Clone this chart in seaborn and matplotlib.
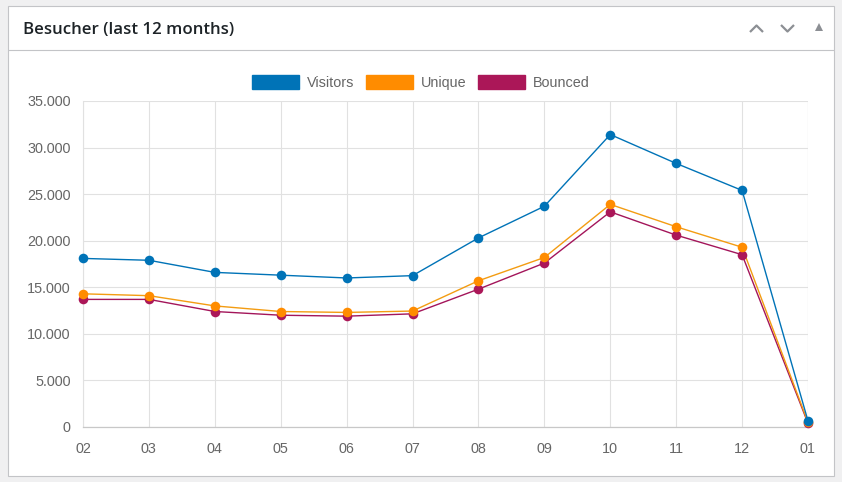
import matplotlib
matplotlib.use("Agg")
import matplotlib.pyplot as plt
import matplotlib.patches as mpatches
from matplotlib.lines import Line2D
from matplotlib.ticker import FuncFormatter, MultipleLocator
import seaborn as sns
import pandas as pd

months = ["02", "03", "04", "05", "06", "07", "08", "09", "10", "11", "12", "01"]
visitors = [18100, 17900, 16600, 16300, 16000, 16250, 20300, 23700, 31400, 28300, 25400, 650]
unique = [14300, 14100, 13000, 12400, 12300, 12450, 15700, 18200, 23900, 21500, 19300, 500]
bounced = [13700, 13700, 12400, 12000, 11900, 12150, 14800, 17600, 23100, 20600, 18500, 400]
series_names = ["Visitors", "Unique", "Bounced"]
line_colors = {"Visitors": "#0073b7", "Unique": "#f39c12", "Bounced": "#a3155a"}
marker_colors = {"Visitors": "#0073b7", "Unique": "#ff8c00", "Bounced": "#ab1758"}
title = "Besucher (last 12 months)"

rows = []
for name, vals in zip(series_names, [visitors, unique, bounced]):
    for i, (m, v) in enumerate(zip(months, vals)):
        rows.append({"pos": i, "month": m, "series": name, "value": v})
df = pd.DataFrame(rows)

sns.set_theme(style="white")
plt.rcParams["font.family"] = ["Liberation Sans", "DejaVu Sans"]

W, H = 842, 482
fig = plt.figure(figsize=(W / 100, H / 100), dpi=100)
fig.patch.set_facecolor("#f0f0f1")

def fx(px):
    return px / W

def fy(py):
    return 1 - py / H

# panel
panel = mpatches.Rectangle((fx(8), fy(476)), fx(834) - fx(8), fy(6) - fy(476),
                           transform=fig.transFigure, facecolor="white",
                           edgecolor="#c3c4c7", linewidth=0.8, zorder=0)
fig.add_artist(panel)
fig.add_artist(Line2D([fx(8), fx(834)], [fy(50), fy(50)], transform=fig.transFigure,
                      color="#c3c4c7", linewidth=0.8))
fig.text(fx(23), fy(29.5), title, fontsize=12.2, fontweight="semibold", color="#1d2327",
         family=["Open Sans", "DejaVu Sans"], va="center", ha="left")

# header icons
icon_c = "#8c8f94"
fig.add_artist(Line2D([fx(750), fx(756.5), fx(763)], [fy(32), fy(25.5), fy(32)],
                      transform=fig.transFigure, color=icon_c, linewidth=1.6,
                      solid_capstyle="butt"))
fig.add_artist(Line2D([fx(781), fx(787.5), fx(794)], [fy(25), fy(31.5), fy(25)],
                      transform=fig.transFigure, color=icon_c, linewidth=1.6,
                      solid_capstyle="butt"))
fig.add_artist(mpatches.Polygon([[fx(815), fy(31)], [fx(823), fy(31)], [fx(819), fy(23)]],
                                closed=True, transform=fig.transFigure,
                                facecolor=icon_c, edgecolor="none"))

# axes
ax = fig.add_axes([fx(83), fy(427), fx(808) - fx(83), fy(101) - fy(427)])
ax.set_facecolor("none")

for name in reversed(series_names):
    sub = df[df["series"] == name]
    sns.lineplot(data=sub, x="pos", y="value", ax=ax, color=line_colors[name],
                 linewidth=1.0, sort=False, legend=False, zorder=3, clip_on=False)
    sns.scatterplot(data=sub, x="pos", y="value", ax=ax, color=marker_colors[name],
                    s=48, linewidth=0, legend=False, zorder=4, clip_on=False)

ax.set_xlim(0, len(months) - 1)
ax.set_ylim(0, 35000)
ax.yaxis.set_major_locator(MultipleLocator(5000))
ax.yaxis.set_major_formatter(FuncFormatter(lambda v, p: f"{int(v):,}".replace(",", ".")))
ax.set_xticks(range(len(months)))
ax.set_xticklabels(months)
ax.set_xlabel("")
ax.set_ylabel("")
ax.grid(True, color="#e1e1e1", linewidth=0.8)
ax.set_axisbelow(True)
for s in ["top", "right"]:
    ax.spines[s].set_visible(False)
ax.spines["left"].set_color("#e1e1e1")
ax.spines["left"].set_linewidth(0.8)
ax.spines["bottom"].set_color("#c8c8c8")
ax.spines["bottom"].set_linewidth(0.9)
ax.tick_params(axis="y", length=6, width=0.8, color="#e1e1e1", pad=3,
               labelsize=10.4, labelcolor="#666666")
ax.tick_params(axis="x", length=6, width=0.8, color="#e1e1e1", pad=5,
               labelsize=10.4, labelcolor="#666666")
ax.axvline(len(months) - 1, color="#e1e1e1", linewidth=0.8, zorder=0)

# legend
handles = [mpatches.Patch(facecolor=marker_colors[n], edgecolor=marker_colors[n], label=n)
           for n in series_names]
fig.legend(handles=handles, loc="center", bbox_to_anchor=(fx(420.5), fy(82.5)), ncol=3,
           frameon=False, fontsize=10.4, handlelength=3.3, handleheight=1.05,
           handletextpad=0.5, columnspacing=0.8, labelcolor="#666666")

fig.savefig("out.png", dpi=100, facecolor=fig.get_facecolor())
